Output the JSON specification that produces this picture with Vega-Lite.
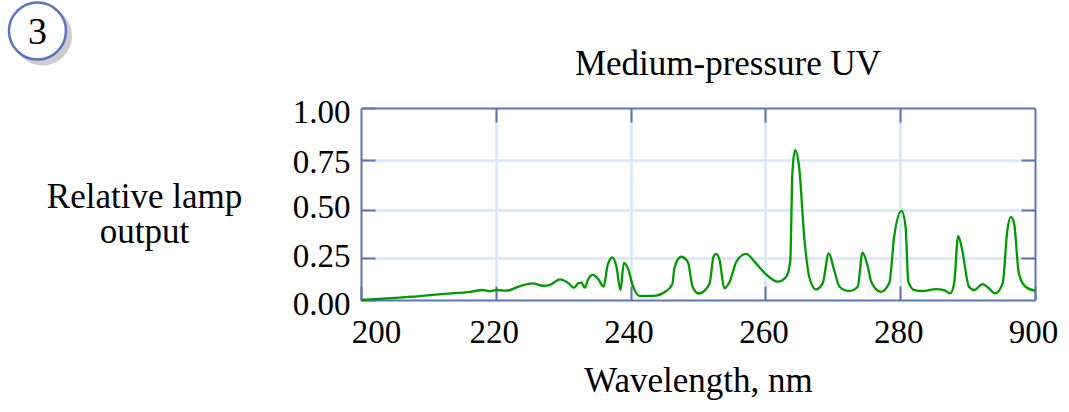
{
  "$schema": "https://vega.github.io/schema/vega-lite/v6.json",
  "width": 674,
  "height": 192,
  "autosize": "none",
  "padding": {"left": 361, "top": 108, "right": 34, "bottom": 112},
  "background": "white",
  "config": {
    "view": {"stroke": null},
    "font": "Liberation Serif"
  },
  "title": {
    "text": "Medium-pressure UV",
    "font": "Liberation Serif",
    "fontSize": 35,
    "fontWeight": "normal",
    "color": "black",
    "anchor": "middle",
    "frame": "group",
    "dx": 30,
    "offset": -112,
    "baseline": "alphabetic"
  },
  "datasets": {
    "spectrum": [
      {"wl": 200.0, "rel": 0.0},
      {"wl": 208.7, "rel": 0.029},
      {"wl": 212.4, "rel": 0.044},
      {"wl": 216.2, "rel": 0.057},
      {"wl": 218.1, "rel": 0.068},
      {"wl": 219.1, "rel": 0.06},
      {"wl": 220.1, "rel": 0.068},
      {"wl": 221.6, "rel": 0.064},
      {"wl": 223.6, "rel": 0.092},
      {"wl": 225.5, "rel": 0.108},
      {"wl": 227.0, "rel": 0.094},
      {"wl": 228.0, "rel": 0.098},
      {"wl": 229.5, "rel": 0.132},
      {"wl": 230.7, "rel": 0.112},
      {"wl": 231.6, "rel": 0.082},
      {"wl": 232.2, "rel": 0.108},
      {"wl": 232.7, "rel": 0.112},
      {"wl": 233.2, "rel": 0.083},
      {"wl": 233.7, "rel": 0.132},
      {"wl": 234.4, "rel": 0.157},
      {"wl": 235.2, "rel": 0.132},
      {"wl": 236.0, "rel": 0.089},
      {"wl": 236.6, "rel": 0.213},
      {"wl": 237.3, "rel": 0.254},
      {"wl": 237.9, "rel": 0.203},
      {"wl": 238.5, "rel": 0.068},
      {"wl": 239.0, "rel": 0.225},
      {"wl": 239.6, "rel": 0.194},
      {"wl": 240.3, "rel": 0.098},
      {"wl": 241.3, "rel": 0.03},
      {"wl": 243.3, "rel": 0.03},
      {"wl": 245.3, "rel": 0.062},
      {"wl": 246.2, "rel": 0.104},
      {"wl": 246.5, "rel": 0.196},
      {"wl": 247.5, "rel": 0.258},
      {"wl": 248.5, "rel": 0.229},
      {"wl": 249.2, "rel": 0.088},
      {"wl": 250.1, "rel": 0.046},
      {"wl": 251.7, "rel": 0.104},
      {"wl": 252.3, "rel": 0.258},
      {"wl": 252.7, "rel": 0.273},
      {"wl": 253.2, "rel": 0.24},
      {"wl": 253.9, "rel": 0.079},
      {"wl": 254.7, "rel": 0.118},
      {"wl": 255.7, "rel": 0.231},
      {"wl": 257.1, "rel": 0.273},
      {"wl": 258.6, "rel": 0.222},
      {"wl": 260.1, "rel": 0.16},
      {"wl": 261.8, "rel": 0.118},
      {"wl": 263.1, "rel": 0.147},
      {"wl": 263.7, "rel": 0.24},
      {"wl": 264.0, "rel": 0.685},
      {"wl": 264.4, "rel": 0.798},
      {"wl": 265.0, "rel": 0.717},
      {"wl": 265.8, "rel": 0.347},
      {"wl": 266.5, "rel": 0.147},
      {"wl": 267.5, "rel": 0.072},
      {"wl": 268.5, "rel": 0.108},
      {"wl": 269.4, "rel": 0.276},
      {"wl": 270.2, "rel": 0.185},
      {"wl": 271.0, "rel": 0.088},
      {"wl": 272.4, "rel": 0.062},
      {"wl": 273.7, "rel": 0.088},
      {"wl": 274.4, "rel": 0.28},
      {"wl": 275.2, "rel": 0.203},
      {"wl": 275.7, "rel": 0.118},
      {"wl": 277.1, "rel": 0.057},
      {"wl": 278.4, "rel": 0.112},
      {"wl": 279.1, "rel": 0.364},
      {"wl": 280.2, "rel": 0.498},
      {"wl": 280.8, "rel": 0.416},
      {"wl": 281.2, "rel": 0.118},
      {"wl": 282.1, "rel": 0.068},
      {"wl": 283.3, "rel": 0.062},
      {"wl": 285.3, "rel": 0.074},
      {"wl": 286.5, "rel": 0.068},
      {"wl": 287.4, "rel": 0.047},
      {"wl": 288.0, "rel": 0.108},
      {"wl": 288.6, "rel": 0.369},
      {"wl": 289.2, "rel": 0.294},
      {"wl": 290.2, "rel": 0.088},
      {"wl": 291.0, "rel": 0.068},
      {"wl": 292.2, "rel": 0.104},
      {"wl": 292.9, "rel": 0.088},
      {"wl": 294.1, "rel": 0.047},
      {"wl": 295.2, "rel": 0.108},
      {"wl": 295.9, "rel": 0.399},
      {"wl": 296.4, "rel": 0.467},
      {"wl": 296.9, "rel": 0.434},
      {"wl": 297.6, "rel": 0.166},
      {"wl": 298.6, "rel": 0.088},
      {"wl": 300.0, "rel": 0.064}
    ],
    "badge": [
      {"label": "3", "wl": 152, "rel": 1.3587}
    ]
  },
  "layer": [
    {
      "data": {"name": "spectrum"},
      "mark": {"type": "line", "color": "#009a00", "strokeWidth": 2.3, "interpolate": "monotone"},
      "encoding": {
        "x": {
          "field": "wl", "type": "quantitative",
          "scale": {"domain": [200, 300], "nice": false, "zero": false},
          "axis": {
            "orient": "bottom",
            "values": [200, 220, 240, 260, 280, 300],
            "format": "d",
            "labelExpr": "datum.value == 300 ? '900' : datum.label",
            "grid": true,
            "gridColor": {"condition": {"test": "datum.value == 200 || datum.value == 300", "value": "transparent"}, "value": "#d6e6fa"},
            "gridWidth": 2.5,
            "ticks": true,
            "tickSize": -14,
            "tickWidth": 2,
            "tickColor": "#5c74b8",
            "domain": true,
            "domainColor": "#5c74b8",
            "domainWidth": 2,
            "labelFont": "Liberation Serif",
            "labelFontSize": 33,
            "labelColor": "black",
            "labelBaseline": "top",
            "labelPadding": 30,
            "labelFlush": false,
            "labelOverlap": false,
            "labelOffset": {"condition": {"test": "datum.value == 200", "value": 15}, "value": -2},
            "title": "Wavelength, nm",
            "titleFont": "Liberation Serif",
            "titleFontSize": 35,
            "titleFontWeight": "normal",
            "titleColor": "black",
            "titleX": 337,
            "titleY": 91,
            "titleAlign": "center",
            "titleBaseline": "alphabetic"
          }
        },
        "y": {
          "field": "rel", "type": "quantitative",
          "scale": {"type": "pow", "exponent": 1.1, "domain": [0, 1], "nice": false, "zero": true},
          "axis": {
            "orient": "left",
            "values": [0, 0.25, 0.5, 0.75, 1],
            "format": ".2f",
            "grid": true,
            "gridColor": {"condition": {"test": "datum.value == 0 || datum.value == 1", "value": "transparent"}, "value": "#d6e6fa"},
            "gridWidth": 2.5,
            "ticks": true,
            "tickSize": -14,
            "tickWidth": 2,
            "tickColor": "#5c74b8",
            "domain": true,
            "domainColor": "#5c74b8",
            "domainWidth": 2,
            "labelFont": "Liberation Serif",
            "labelFontSize": 33,
            "labelColor": "black",
            "labelAlign": "right",
            "labelBaseline": "middle",
            "labelPadding": 25,
            "labelFlush": false,
            "labelOverlap": false,
            "labelOffset": {"condition": [
              {"test": "datum.value == 0.5", "value": -3},
              {"test": "datum.value == 0.25", "value": -2},
              {"test": "datum.value == 0.75", "value": 2}
            ], "value": 4},
            "title": ["Relative lamp", "output"],
            "titleFont": "Liberation Serif",
            "titleFontSize": 35,
            "titleFontWeight": "normal",
            "titleColor": "black",
            "titleAngle": 0,
            "titleX": -217,
            "titleY": 99,
            "titleAlign": "center",
            "titleBaseline": "alphabetic",
            "titleLineHeight": 35
          }
        }
      }
    },
    {
      "data": {"name": "spectrum"},
      "mark": {"type": "line", "strokeOpacity": 0},
      "encoding": {
        "x": {
          "field": "wl", "type": "quantitative",
          "scale": {"domain": [200, 300], "nice": false, "zero": false},
          "axis": {
            "orient": "top",
            "values": [220, 240, 260, 280],
            "labels": false,
            "grid": false,
            "ticks": true,
            "tickSize": -14,
            "tickWidth": 2,
            "tickColor": "#5c74b8",
            "domain": true,
            "domainColor": "#5c74b8",
            "domainWidth": 2,
            "title": null
          }
        },
        "y": {
          "field": "rel", "type": "quantitative",
          "scale": {"type": "pow", "exponent": 1.1, "domain": [0, 1], "nice": false, "zero": true},
          "axis": {
            "orient": "right",
            "values": [0.25, 0.5, 0.75],
            "labels": false,
            "grid": false,
            "ticks": true,
            "tickSize": -14,
            "tickWidth": 2,
            "tickColor": "#5c74b8",
            "domain": true,
            "domainColor": "#5c74b8",
            "domainWidth": 2,
            "title": null
          }
        }
      }
    },
    {
      "data": {"name": "badge"},
      "mark": {"type": "point", "shape": "circle", "filled": true, "fill": "#cccccc", "stroke": null, "opacity": 1, "size": 3481, "xOffset": 5, "yOffset": 5, "clip": false},
      "encoding": {
        "x": {"field": "wl", "type": "quantitative", "axis": null},
        "y": {"field": "rel", "type": "quantitative", "axis": null}
      }
    },
    {
      "data": {"name": "badge"},
      "mark": {"type": "point", "shape": "circle", "filled": true, "fill": "white", "stroke": "#5b73c0", "strokeWidth": 2.5, "opacity": 1, "size": 3249, "clip": false},
      "encoding": {
        "x": {"field": "wl", "type": "quantitative", "axis": null},
        "y": {"field": "rel", "type": "quantitative", "axis": null}
      }
    },
    {
      "data": {"name": "badge"},
      "mark": {"type": "text", "font": "Liberation Serif", "fontSize": 38, "color": "black", "align": "center", "baseline": "middle", "dy": 2, "clip": false},
      "encoding": {
        "x": {"field": "wl", "type": "quantitative", "axis": null},
        "y": {"field": "rel", "type": "quantitative", "axis": null},
        "text": {"field": "label"}
      }
    }
  ],
  "resolve": {"axis": {"x": "independent", "y": "independent"}}
}
